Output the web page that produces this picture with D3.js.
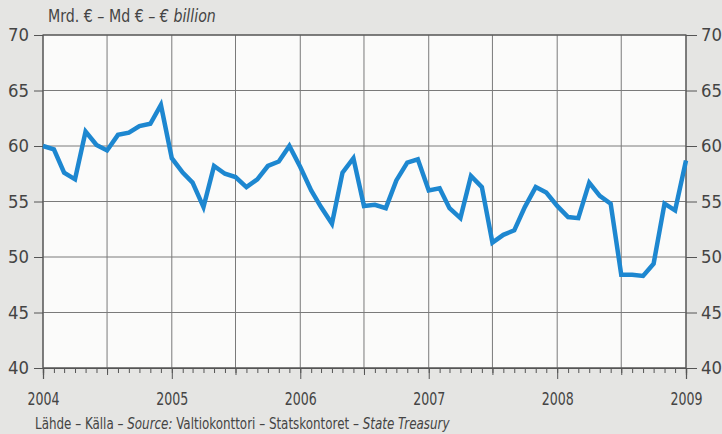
<!DOCTYPE html>
<html><head><meta charset="utf-8">
<script src="https://cdn.jsdelivr.net/npm/d3@7"></script>
<style>
html,body{margin:0;padding:0;background:#e5e5e3;}
svg{display:block;font-family:"Liberation Sans Narrow","DejaVu Sans Condensed",sans-serif;}
</style></head><body>
<svg id="c" width="722" height="434"></svg>
<script>
const years = [2004, 2005, 2006, 2007, 2008, 2009];
const yTicks = [40, 45, 50, 55, 60, 65, 70];
const values = [
  60.0, 59.7, 57.6, 57.0, 61.3, 60.1, 59.6, 61.0, 61.2, 61.8, 62.0, 63.7,
  58.9, 57.6, 56.7, 54.5, 58.2, 57.5, 57.2, 56.3, 57.0, 58.2, 58.6, 60.0,
  58.1, 56.0, 54.5, 53.0, 57.6, 58.9, 54.6, 54.7, 54.4, 56.9, 58.5, 58.8,
  56.0, 56.2, 54.4, 53.5, 57.3, 56.3, 51.3, 52.0, 52.4, 54.5, 56.3, 55.8,
  54.6, 53.6, 53.5, 56.7, 55.5, 54.8, 48.4, 48.4, 48.3, 49.4, 54.8, 54.2,
  58.7
];
const dates = values.map((v, i) => new Date(2004, i, 1));
const unitLabel = "Mrd. € – Md € – ";
const unitItalic = "€ billion";

const svg = d3.select("#c");
const L = 43, R = 686, T = 35, B = 368;
const x = d3.scaleTime().domain([new Date(2004,0,1), new Date(2009,0,1)]).range([L, R]);
const y = d3.scaleLinear().domain([40, 70]).range([B, T]);
const txtColor = "#444";

svg.append("rect").attr("x", L).attr("y", T).attr("width", R - L).attr("height", B - T).attr("fill", "#fbfbfa");

const gridColor = "#7a7a7a";
svg.append("g").selectAll("line").data(yTicks).join("line")
  .attr("x1", L).attr("x2", R).attr("y1", d => y(d)).attr("y2", d => y(d))
  .attr("stroke", gridColor).attr("stroke-width", 1);
const halfYears = d3.timeMonth.every(6).range(new Date(2004,0,1), new Date(2009,0,2));
svg.append("g").selectAll("line").data(halfYears).join("line")
  .attr("x1", d => x(d)).attr("x2", d => x(d)).attr("y1", T).attr("y2", B)
  .attr("stroke", gridColor).attr("stroke-width", 1);

const yAxisL = d3.axisLeft(y).tickValues(yTicks).tickSize(9).tickPadding(5);
const gl = svg.append("g").attr("transform", `translate(${L},0)`).call(yAxisL);
const yAxisR = d3.axisRight(y).tickValues(yTicks).tickSize(11).tickPadding(4);
const gr = svg.append("g").attr("transform", `translate(${R},0)`).call(yAxisR);
const months = d3.timeMonth.range(new Date(2004,0,1), new Date(2009,0,2));
const gm = svg.append("g").attr("transform", `translate(0,${B})`)
  .call(d3.axisBottom(x).tickValues(months).tickSize(5).tickFormat(""));
const gy = svg.append("g").attr("transform", `translate(0,${B})`)
  .call(d3.axisBottom(x).tickValues(years.map(yr => new Date(yr,0,1))).tickSize(11).tickPadding(13).tickFormat(d3.timeFormat("%Y")));
const gh = svg.append("g").attr("transform", `translate(0,${B})`)
  .call(d3.axisBottom(x).tickValues(halfYears.filter(d => d.getMonth() === 6)).tickSize(7).tickFormat(""));

[gl, gr, gm, gy, gh].forEach(g => {
  g.select(".domain").attr("stroke", "#555").attr("stroke-width", 1.2);
  g.selectAll(".tick line").attr("stroke", "#555").attr("stroke-width", 1);
  g.selectAll("text").attr("fill", txtColor).attr("font-size", 18)
    .attr("font-family", '"Liberation Sans Narrow","DejaVu Sans Condensed",sans-serif');
});
gy.selectAll("text").attr("textLength", 32).attr("lengthAdjust", "spacingAndGlyphs");
gl.selectAll("text").attr("textLength", 21).attr("lengthAdjust", "spacingAndGlyphs");
gr.selectAll("text").attr("textLength", 21).attr("lengthAdjust", "spacingAndGlyphs");
gl.select(".domain").remove();
gr.select(".domain").remove();
svg.append("rect").attr("x", L).attr("y", T).attr("width", R - L).attr("height", B - T)
  .attr("fill", "none").attr("stroke", "#555").attr("stroke-width", 1.2);

const line = d3.line().x((d, i) => x(dates[i])).y(d => y(d));
svg.append("path").datum(values).attr("d", line)
  .attr("fill", "none").attr("stroke", "#1d87d0").attr("stroke-width", 4.5)
  .attr("stroke-linejoin", "miter").attr("stroke-linecap", "butt");

function fittedText(x0, y0, size, width, parts) {
  const g = svg.append("g");
  const t = g.append("text").attr("x", 0).attr("y", 0).attr("font-size", size).attr("fill", txtColor);
  parts.forEach(p => t.append("tspan").attr("font-style", p[1] ? "italic" : "normal").text(p[0]));
  const w = t.node().getComputedTextLength();
  g.attr("transform", `translate(${x0},${y0}) scale(${width / w},1)`);
}
fittedText(48, 22, 17, 168, [[unitLabel, false], [unitItalic, true]]);
fittedText(35, 429, 15, 415, [
  ["Lähde – Källa – ", false], ["Source:", true],
  [" Valtiokonttori – Statskontoret – ", false], ["State Treasury", true]
]);
</script>
</body></html>
